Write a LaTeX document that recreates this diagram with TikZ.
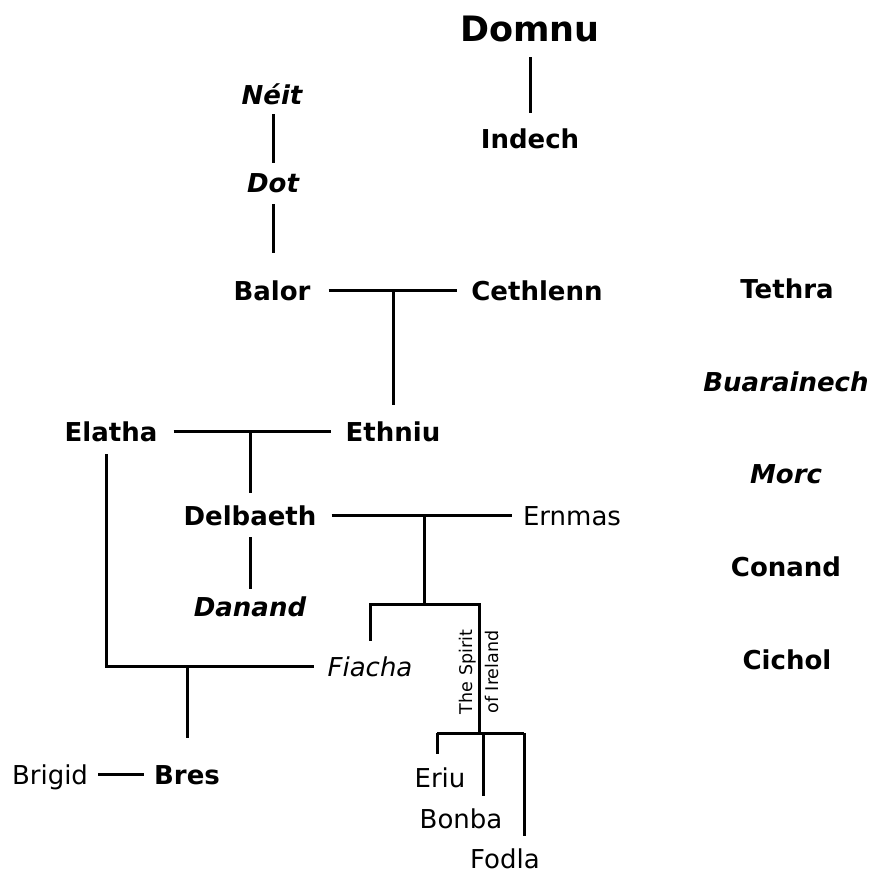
\documentclass[tikz,border=0pt]{standalone}
\usepackage{fontspec}
\setmainfont{DejaVu Sans}
\begin{document}
\begin{tikzpicture}[x=1pt,y=-1pt,
  every node/.style={inner sep=0pt, anchor=base, text height=19pt, text depth=0pt},
  nm/.style={font=\bfseries\fontsize{26}{31}\selectfont},
  ni/.style={font=\bfseries\itshape\fontsize{26}{31}\selectfont},
  rg/.style={font=\fontsize{26}{31}\selectfont},
  ri/.style={font=\itshape\fontsize{26}{31}\selectfont},
  small/.style={font=\fontsize{17.5}{26}\selectfont, text height={}, text depth={}, align=center, rotate=90, anchor=center},
  link/.style={line width=3pt}]
\useasboundingbox (0,0) rectangle (883,873);

% nodes
\node[nm, font=\bfseries\fontsize{35}{42}\selectfont, text height=26pt] (Domnu) at (530,41) {Domnu};
\node[nm] (Indech) at (530,148) {Indech};
\node[ni] (Neit) at (272,104) {Néit};
\node[ni] (Dot) at (273,192) {Dot};
\node[nm] (Balor) at (272,300) {Balor};
\node[nm] (Cethlenn) at (537,300) {Cethlenn};
\node[nm] (Tethra) at (787,298) {Tethra};
\node[ni] (Buarainech) at (786,391) {Buarainech};
\node[nm] (Elatha) at (111,441) {Elatha};
\node[nm] (Ethniu) at (393,441) {Ethniu};
\node[ni] (Morc) at (786,483) {Morc};
\node[nm] (Delbaeth) at (250,525) {Delbaeth};
\node[rg] (Ernmas) at (572,525) {Ernmas};
\node[nm] (Conand) at (786,576) {Conand};
\node[ni] (Danand) at (250,616) {Danand};
\node[ri] (Fiacha) at (370,676) {Fiacha};
\node[nm] (Cichol) at (787,669) {Cichol};
\node[small] (Spirit) at (479,672) {The Spirit\\of Ireland};
\node[rg] (Eriu) at (440,787) {Eriu};
\node[rg] (Bonba) at (461,828) {Bonba};
\node[rg] (Fodla) at (505,868) {Fodla};
\node[rg] (Brigid) at (50,784) {Brigid};
\node[nm] (Bres) at (187,784) {Bres};

% junction coordinates
\coordinate (sib) at (424,604);
\coordinate (dau) at (479,733);
\coordinate (dL) at (437,733);
\coordinate (dM) at (483,733);
\coordinate (dR) at (524,733);

% connectors
\draw[link] ([yshift=-16pt]Domnu.south) -- ([yshift=16pt]Indech.north);
\draw[link] ([xshift=1pt,yshift=-10pt]Neit.south) -- ([yshift=10pt]Dot.north);
\draw[link] ([yshift=-12pt]Dot.south) -- ([xshift=1pt,yshift=28pt]Balor.north);

\draw[link] ([xshift=18pt]Balor.east) -- ([xshift=-14pt]Cethlenn.west);
\draw[link] ([yshift=17pt]Ethniu.north) -- (Ethniu.north |- Balor.east);

\draw[link] ([xshift=16pt]Elatha.east) -- ([xshift=-14pt]Ethniu.west);
\draw[link] ([yshift=13pt]Delbaeth.north) -- (Delbaeth.north |- Elatha.east);

\draw[link] ([xshift=15pt]Delbaeth.east) -- ([xshift=-11pt]Ernmas.west);
\draw[link] (sib) -- (sib |- Delbaeth.east);
\draw[link] ([yshift=-12pt]Delbaeth.south) -- ([yshift=8pt]Danand.north);

\draw[link] ([yshift=16pt]Fiacha.north) -- (Fiacha.north |- sib) -- (dau |- sib) -- (dau);

\draw[link] (dL) -- (dR);
\draw[link] (dL) -- ([xshift=-3pt,yshift=14pt]Eriu.north);
\draw[link] (dM) -- ([xshift=22pt,yshift=13pt]Bonba.north);
\draw[link] (dR) -- ([xshift=19pt,yshift=13pt]Fodla.north);

\draw[link] ([xshift=-5pt,yshift=-13pt]Elatha.south) |- ([xshift=-13pt]Fiacha.west);
\draw[link] ([yshift=27pt]Bres.north) -- (Bres.north |- Fiacha.west);

\draw[link] ([xshift=10pt]Brigid.east) -- ([xshift=-10pt]Bres.west);
\end{tikzpicture}
\end{document}
